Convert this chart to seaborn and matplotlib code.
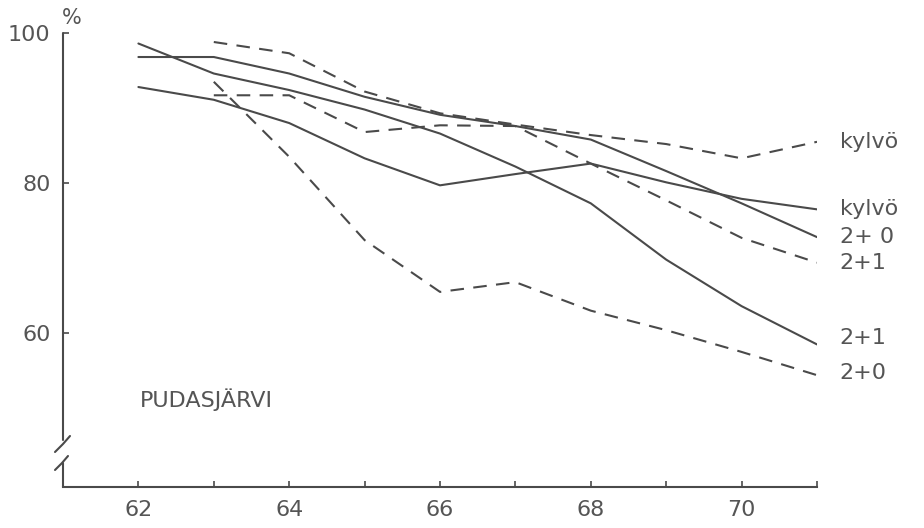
import matplotlib
matplotlib.use("Agg")
import matplotlib.pyplot as plt
import seaborn as sns
import numpy as np

# ---- data ----
years = [62, 63, 64, 65, 66, 67, 68, 69, 70, 71]
years_dashed = [63, 64, 65, 66, 67, 68, 69, 70, 71]

solid_kylvo = [92.8, 91.1, 88.0, 83.3, 79.7, 81.2, 82.6, 80.1, 77.9, 76.5]
solid_20 = [96.8, 96.8, 94.6, 91.5, 89.1, 87.6, 85.8, 81.6, 77.3, 72.8]
solid_21 = [98.6, 94.6, 92.4, 89.8, 86.6, 82.2, 77.3, 69.8, 63.6, 58.5]

dashed_kylvo = [98.8, 97.3, 92.2, 89.3, 87.8, 86.4, 85.2, 83.3, 85.5]
dashed_21 = [91.7, 91.7, 86.8, 87.7, 87.6, 82.6, 77.7, 72.7, 69.4]
dashed_20 = [93.5, 83.5, 72.4, 65.5, 66.8, 63.0, 60.4, 57.5, 54.4]

x_ticks = [62, 64, 66, 68, 70]
x_minor = [63, 65, 67, 69, 71]
y_ticks = [60, 80, 100]
place_label = "PUDASJÄRVI"

INK = "#4a4a4a"
TXT = "#555555"

sns.set_style("white")
plt.rcParams["font.family"] = ["DejaVu Sans"]

fig = plt.figure(figsize=(9.24, 5.28), dpi=100)
ax = fig.add_axes([63 / 924, 1 - 487 / 528, (817 - 63) / 924, (487 - 33) / 528])

lw = 1.5
dash = (0, (6.5, 4.5))
series = [
    (years, solid_kylvo, "-", "kylvö", 0.0),
    (years, solid_20, "-", "2+ 0", 0.0),
    (years, solid_21, "-", "2+1", 0.8),
    (years_dashed, dashed_kylvo, dash, "kylvö", 0.0),
    (years_dashed, dashed_21, dash, "2+1", 0.0),
    (years_dashed, dashed_20, dash, "2+0", 0.3),
]
for xs, ys, ls, lab, dy in series:
    sns.lineplot(x=xs, y=ys, ax=ax, color=INK, lw=lw, linestyle=ls,
                 estimator=None, sort=False)
    ax.text(71.3, ys[-1] + dy, lab, fontsize=16, color=TXT,
            ha="left", va="center", clip_on=False)

ax.set_xlim(61, 71)
ax.set_ylim(39.5, 100)

for s in ["top", "right", "left"]:
    ax.spines[s].set_visible(False)
ax.spines["bottom"].set_color(INK)
ax.spines["bottom"].set_linewidth(1.5)

# broken y axis drawn in pixel-like axes fractions
ax_h = 487 - 33
def fy(py):
    return (487 - py) / ax_h
def fx(px):
    return (px - 63) / (817 - 63)
kw = dict(transform=ax.transAxes, color=INK, lw=1.5, clip_on=False,
          solid_capstyle="round")
ax.plot([0, 0], [1, fy(440)], **kw)
ax.plot([fx(55), fx(63), fx(70)], [fy(452), fy(444), fy(436)], **kw)
ax.plot([fx(55), fx(62), fx(68)], [fy(470), fy(463), fy(456)], **kw)
ax.plot([0, 0], [fy(463), 0], **kw)

ax.set_xticks(x_ticks)
ax.set_xticks(x_minor, minor=True)
ax.set_xticklabels([str(t) for t in x_ticks])
ax.set_yticks(y_ticks)
ax.set_yticklabels([str(t) for t in y_ticks])
ax.tick_params(axis="x", which="both", direction="in", length=4, width=1.2,
               color=INK, labelsize=16, labelcolor=TXT, pad=9, bottom=True)
ax.tick_params(axis="y", direction="in", length=4, width=1.2, color=INK,
               labelsize=16, labelcolor=TXT, pad=9, left=True)
ax.grid(False)

ax.text(fx(72), fy(18), "%", transform=ax.transAxes, fontsize=15,
        color=TXT, ha="center", va="center", clip_on=False)
ax.text(62.02, 51.2, place_label, fontsize=16, color=TXT, ha="left",
        va="center")

fig.savefig("out.png", dpi=100)
